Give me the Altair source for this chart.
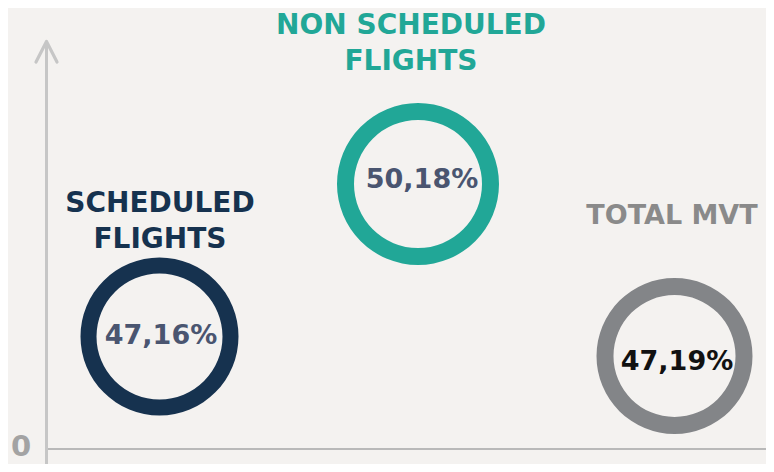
import math
import altair as alt
import pandas as pd

# ---- data ----
categories = ["SCHEDULED FLIGHTS", "NON SCHEDULED FLIGHTS", "TOTAL MVT"]
label_lines = [["SCHEDULED", "FLIGHTS"], ["NON SCHEDULED", "FLIGHTS"], ["TOTAL MVT"]]
values = [47.16, 50.18, 47.19]
value_labels = ["47,16%", "50,18%", "47,19%"]
zero_label = "0"

# ---- layout / styles (page pixel coordinates) ----
ring_cx = [159.5, 418, 674.5]
ring_cy = [336.5, 184, 356]
ring_r = [79, 81, 78]
ring_w = [16, 17, 17]
value_x = [161, 422, 677]
value_y = [336, 180, 362]
label_x = [160, 411, 672]
label_y = [204, 26, 216]
label_size = [28, 28, 27]
line_gap = 36
ring_colors = ["#16324f", "#21a797", "#838588"]
value_colors = ["#4a5570", "#4a5570", "#111111"]
label_colors = ["#16324f", "#21a797", "#8a8a8a"]
bg = "#f4f2f0"
FONT = "DejaVu Sans"

W, H = 758, 456
xs = alt.Scale(domain=[8, 8 + W], nice=False, zero=False)
ys = alt.Scale(domain=[8, 8 + H], nice=False, zero=False, reverse=True)

rings = pd.DataFrame({
    "cat": categories, "value": values, "cx": ring_cx, "cy": ring_cy,
    "r": ring_r, "r2": [r - w for r, w in zip(ring_r, ring_w)], "color": ring_colors,
})
ring_layer = alt.Chart(rings).mark_arc(theta=0, theta2=2 * math.pi).encode(
    x=alt.X("cx:Q", scale=xs, axis=None),
    y=alt.Y("cy:Q", scale=ys, axis=None),
    radius=alt.Radius("r:Q", scale=None),
    radius2=alt.Radius2("r2:Q"),
    color=alt.Color("color:N", scale=None),
)

vals = pd.DataFrame({"t": value_labels, "x": value_x, "y": value_y, "color": value_colors})
value_layer = alt.Chart(vals).mark_text(
    font=FONT, fontSize=27, fontWeight="bold", align="center", baseline="middle"
).encode(
    x=alt.X("x:Q", scale=xs, axis=None),
    y=alt.Y("y:Q", scale=ys, axis=None),
    text="t:N",
    color=alt.Color("color:N", scale=None),
)

rows = []
for lines, lx, ly, c, s in zip(label_lines, label_x, label_y, label_colors, label_size):
    for i, ln in enumerate(lines):
        rows.append({"t": ln, "x": lx, "y": ly + i * line_gap, "color": c, "s": s})
labels = pd.DataFrame(rows)
label_layer = alt.Chart(labels).mark_text(
    font=FONT, fontWeight="bold", align="center", baseline="middle"
).encode(
    x=alt.X("x:Q", scale=xs, axis=None),
    y=alt.Y("y:Q", scale=ys, axis=None),
    text="t:N",
    size=alt.Size("s:Q", scale=None),
    color=alt.Color("color:N", scale=None),
)

zero = pd.DataFrame({"t": [zero_label], "x": [21], "y": [447]})
zero_layer = alt.Chart(zero).mark_text(
    font=FONT, fontSize=29, fontWeight="bold", color="#a3a3a3", align="center", baseline="middle"
).encode(
    x=alt.X("x:Q", scale=xs, axis=None),
    y=alt.Y("y:Q", scale=ys, axis=None),
    text="t:N",
)

# axis lines
vaxis = pd.DataFrame({"x": [46.5], "y": [41], "y2": [480]})
vaxis_layer = alt.Chart(vaxis).mark_rule(color="#c6c6c6", strokeWidth=3).encode(
    x=alt.X("x:Q", scale=xs, axis=None),
    y=alt.Y("y:Q", scale=ys, axis=None),
    y2="y2:Q",
)
arrow = pd.DataFrame({"x": [36, 46.5, 57], "y": [62, 41.5, 62], "o": [0, 1, 2]})
arrow_layer = alt.Chart(arrow).mark_line(
    color="#c6c6c6", strokeWidth=3.2, strokeCap="round", strokeJoin="round"
).encode(
    x=alt.X("x:Q", scale=xs, axis=None),
    y=alt.Y("y:Q", scale=ys, axis=None),
    order="o:Q",
)
haxis = pd.DataFrame({"x": [48], "x2": [800], "y": [449]})
haxis_layer = alt.Chart(haxis).mark_rule(color="#b9b9b9", strokeWidth=2).encode(
    x=alt.X("x:Q", scale=xs, axis=None),
    x2="x2:Q",
    y=alt.Y("y:Q", scale=ys, axis=None),
)

chart = alt.layer(
    vaxis_layer, arrow_layer, haxis_layer, zero_layer,
    ring_layer, value_layer, label_layer,
).properties(
    width=W, height=H, padding=0, background=bg,
    autosize=alt.AutoSizeParams(type="none"),
).configure_view(stroke=None, clip=False)

chart.save("out.html", embed_options={"renderer": "svg", "actions": False})
